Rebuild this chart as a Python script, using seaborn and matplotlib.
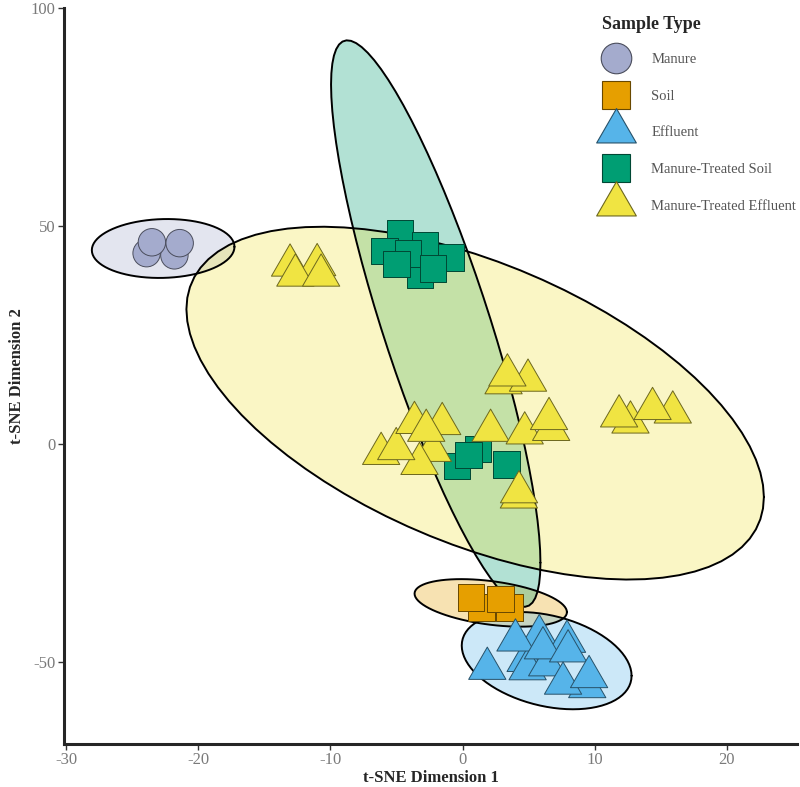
import numpy as np
import pandas as pd
import matplotlib
matplotlib.use("Agg")
import matplotlib.pyplot as plt
from matplotlib.path import Path
from matplotlib.lines import Line2D
from matplotlib.colors import to_rgb
import seaborn as sns

# sample groups and colours
types = ["Manure", "Soil", "Effluent", "Manure-Treated Soil", "Manure-Treated Effluent"]
colors = ["#A4ABCD", "#E69F00", "#56B4E9", "#009E73", "#F0E442"]

# t-SNE coordinates
manure_x = [-23.9, -21.8, -23.5, -21.4]
manure_y = [43.8, 43.3, 46.3, 46.1]

soil_x = [1.44, 3.56, 0.66, 2.86]
soil_y = [-37.5, -37.5, -35.2, -35.5]

effluent_x = [4.77, 4.92, 6.4, 9.43, 1.87, 5.8, 7.9, 4.0, 6.08, 7.98, 7.6, 9.57]
effluent_y = [-49.7, -51.6, -50.7, -55.7, -51.5, -44.0, -45.3, -45.0, -46.8, -47.5, -54.9, -53.4]

mts_x = [-3.2, -4.72, -2.83, -5.9, -4.14, -0.86, -2.25, -5.0, -0.4, 1.16, 0.45, 3.33]
mts_y = [38.8, 48.3, 45.6, 44.3, 43.7, 42.8, 40.3, 41.3, -5.0, -1.1, -2.5, -4.7]

mte_x = [-13.05, -11.0, -12.65, -10.7,
         3.1, 4.95, 3.39,
         12.7, 11.84, 15.9, 14.37,
         -2.25, -3.26, -6.16, -5.02, -3.64, -1.54, -2.75,
         2.12, 4.7, 6.7, 6.54,
         4.26, 4.27]
mte_y = [41.0, 41.1, 38.7, 38.7,
         14.0, 14.6, 15.8,
         5.0, 6.4, 7.3, 8.1,
         -1.5, -4.5, -2.2, -1.1, 4.9, 4.65, 3.1,
         3.1, 2.5, 3.3, 5.8,
         -12.2, -11.0]

xs = [manure_x, soil_x, effluent_x, mts_x, mte_x]
ys = [manure_y, soil_y, effluent_y, mts_y, mte_y]
df = pd.concat([pd.DataFrame({"x": a, "y": b, "type": t}) for a, b, t in zip(xs, ys, types)],
               ignore_index=True)


def ellipse(pts, level=0.95, segments=80):
    # 95% normal data ellipse (like stat_ellipse type="norm")
    center = pts.mean(axis=0)
    shape = np.cov(pts.T)
    dfd = len(pts) - 1
    qf = dfd / 2 * ((1 - level) ** (-2 / dfd) - 1)
    radius = np.sqrt(2 * qf)
    ang = np.linspace(0, 2 * np.pi, segments + 1)
    circ = np.column_stack([np.cos(ang), np.sin(ang)])
    e = center + radius * circ @ np.linalg.cholesky(shape).T
    return e[:, 0], e[:, 1]


tri = Path([(0, 0.5774), (-0.5, -0.2887), (0.5, -0.2887), (0, 0.5774)],
           [Path.MOVETO, Path.LINETO, Path.LINETO, Path.CLOSEPOLY])
markers = {"Manure": "o", "Soil": "s", "Effluent": tri,
           "Manure-Treated Soil": "s", "Manure-Treated Effluent": tri}
sizes = {"Manure": 390, "Soil": 360, "Effluent": 960,
         "Manure-Treated Soil": 360, "Manure-Treated Effluent": 960}
palette = dict(zip(types, colors))


def darker(c, f=0.45):
    return tuple(v * f for v in to_rgb(c))


sns.set_style("ticks")
plt.rcParams['font.family'] = ['Liberation Serif', 'DejaVu Serif']
plt.rcParams['axes.unicode_minus'] = False

fig = plt.figure(figsize=(8, 7.87), dpi=100)
ax = fig.add_axes([0.08, 0.0546, 0.9163, 0.935])

for t, c in zip(types, colors):
    pts = df.loc[df.type == t, ["x", "y"]].to_numpy()
    ex, ey = ellipse(pts)
    ax.fill(ex, ey, facecolor=c, alpha=0.3, edgecolor="none", zorder=1)
    ax.plot(ex, ey, color="black", lw=1.4, zorder=1.5)

sns.scatterplot(data=df, x="x", y="y", hue="type", style="type", size="type",
                palette=palette, markers=markers, sizes=sizes,
                edgecolor=[darker(palette[t]) for t in df.type], linewidth=0.7,
                legend=False, ax=ax, zorder=3)

ax.set_xlim(-30.15, 25.3)
ax.set_ylim(-68.8, 100)
ax.set_xticks([-30, -20, -10, 0, 10, 20])
ax.set_yticks([-50, 0, 50, 100])
for s in ["top", "right"]:
    ax.spines[s].set_visible(False)
for s in ["left", "bottom"]:
    ax.spines[s].set_linewidth(2.2)
ax.tick_params(length=4, width=1, color="#333333", labelcolor="#7a7a7a", labelsize=12, pad=2)
ax.set_xlabel("t-SNE Dimension 1", fontsize=12, fontweight="bold", labelpad=1)
ax.set_ylabel("t-SNE Dimension 2", fontsize=12, fontweight="bold", labelpad=4)

handles = []
msz = {"o": 22, "s": 20}
for t, c in zip(types, colors):
    m = markers[t]
    handles.append(Line2D([], [], linestyle="none", marker=m,
                          markersize=msz.get(m, 33) if isinstance(m, str) else 33,
                          markerfacecolor=c, markeredgecolor=darker(c), markeredgewidth=0.8,
                          label=t))
leg = ax.legend(handles=handles, title="Sample Type", loc="upper left",
                bbox_to_anchor=(0.745, 0.987), bbox_transform=fig.transFigure,
                frameon=False, fontsize=10.5, labelspacing=1.6, handletextpad=1.4,
                borderaxespad=0, title_fontproperties={"weight": "bold", "size": 13})
leg._legend_box.align = "left"
leg._legend_box.sep = 14.5
for txt in leg.get_texts():
    txt.set_color("#555555")

fig.savefig("out.png", dpi=100)
